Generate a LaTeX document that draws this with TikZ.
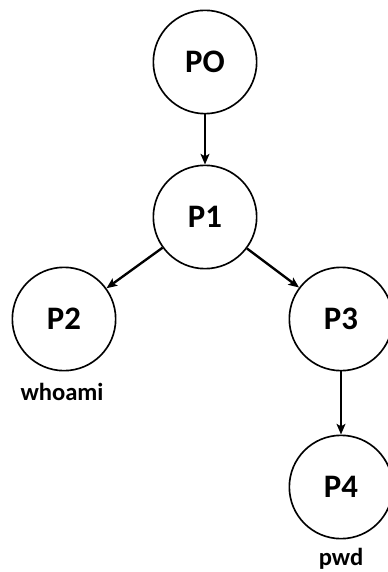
\documentclass[tikz,border=0pt]{standalone}
\usepackage{fontspec}
\setmainfont{Carlito}
\usetikzlibrary{arrows.meta}

\begin{document}
\begin{tikzpicture}[x=0.03cm, y=-0.03cm,
		proc/.style={draw, circle, line width=1.4pt, minimum size=3.1cm, inner sep=0pt, font=\fontsize{28}{30}\selectfont\bfseries},
		cmd/.style={anchor=base, font=\fontsize{21}{24}\selectfont\bfseries},
		edge/.style={line width=2pt, -{Stealth[length=9pt, width=7.5pt, inset=2pt]}}]
			%%%%% START %%%%%
			\useasboundingbox (0, 0) rectangle (387, 572);
			
			\node[proc] (p0) at (205, 62) {PO};
			\node[proc] (p1) at (205, 217) {P1};
			\node[proc] (p2) at (64, 319) {P2};
			\node[proc] (p3) at (341, 319) {P3};
			\node[proc] (p4) at (341, 487) {P4};
			
			\node[cmd] (c2) at (62, 400) {whoami};
			\node[cmd] (c4) at (341, 565) {pwd};
			
			\draw[edge] (p0) -- (p1);
			\draw[edge] (p1) -- (p2);
			\draw[edge] (p1) -- (p3);
			\draw[edge] (p3) -- (p4);
			%%%%% END %%%%%
		\end{tikzpicture}
\end{document}
